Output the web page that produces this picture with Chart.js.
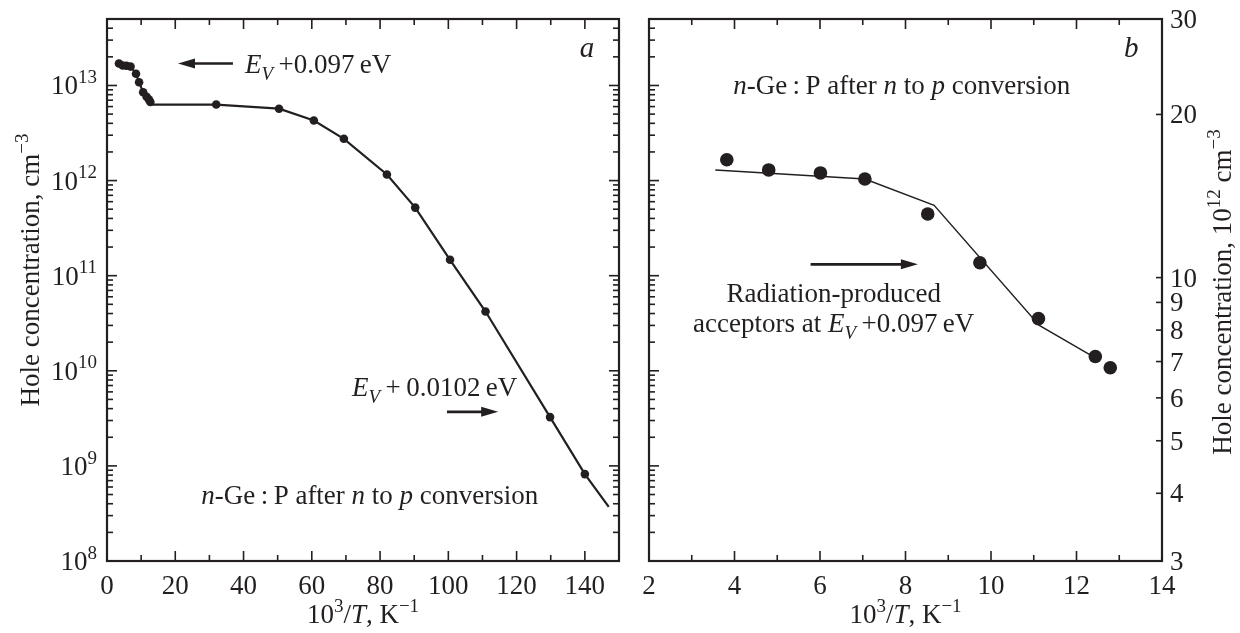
<!DOCTYPE html>
<html>
<head>
<meta charset="utf-8">
<script src="https://cdn.jsdelivr.net/npm/chart.js@4.4.1/dist/chart.umd.min.js"></script>
<style>
  html, body { margin: 0; padding: 0; background: #fff; }
  #wrap { position: relative; width: 1240px; height: 633px; }
  #left { position: absolute; left: 0; top: 0; }
  #right { position: absolute; left: 635px; top: 0; }
</style>
</head>
<body>
<div id="wrap">
  <canvas id="left" width="635" height="633"></canvas>
  <canvas id="right" width="605" height="633"></canvas>
</div>
<script>
// ******************************* DATOS *******************************
// Panel a: puntos medidos
const leftPtsX = [3.5, 4.6, 5.7, 6.9, 8.5, 9.4, 10.6, 11.6, 12.3, 12.7, 32, 50.4, 60.6, 69.4, 82.0, 90.3, 100.5, 110.9, 129.8, 140.0];
const leftPtsY = [1.70e13, 1.62e13, 1.61e13, 1.58e13, 1.33e13, 1.08e13, 8.5e12, 7.6e12, 7.1e12, 6.7e12, 6.3e12, 5.7e12, 4.28e12, 2.75e12, 1.16e12, 5.2e11, 1.47e11, 4.2e10, 3.26e9, 8.2e8];
// Panel a: curva
const leftLineX = [3.5, 4.6, 5.7, 6.9, 8.5, 9.4, 10.6, 11.6, 12.3, 12.7, 13.2, 32, 50.4, 60.6, 69.4, 82.0, 90.3, 100.5, 110.9, 129.8, 140.0, 147];
const leftLineY = [1.70e13, 1.62e13, 1.61e13, 1.58e13, 1.33e13, 1.08e13, 8.5e12, 7.6e12, 7.1e12, 6.7e12, 6.3e12, 6.3e12, 5.7e12, 4.28e12, 2.75e12, 1.16e12, 5.2e11, 1.47e11, 4.2e10, 3.26e9, 8.2e8, 3.7e8];

// Panel b (10^12 cm^-3)
const rightPtsX = [3.82, 4.80, 6.01, 7.05, 8.52, 9.74, 11.11, 12.44, 12.79];
const rightPtsY = [16.5, 15.8, 15.6, 15.2, 13.1, 10.65, 8.4, 7.15, 6.82];
const rightLineX = [3.55, 7.05, 8.67, 11.13, 12.45];
const rightLineY = [15.8, 15.2, 13.6, 8.16, 7.1];

// Ticks
const leftXTicks = [0, 20, 40, 60, 80, 100, 120, 140];
const leftXMinor = [10, 30, 50, 70, 90, 110, 130];
const leftYExp = [8, 9, 10, 11, 12, 13];
const rightXTicks = [2, 4, 6, 8, 10, 12, 14];
const rightXMinor = [3, 5, 7, 9, 11, 13];
const rightYTicks = [3, 4, 5, 6, 7, 8, 9, 10, 20, 30];

// ******************************* ESTILO *******************************
const ink = "#231f20";
const serif = '"Liberation Serif", "DejaVu Serif", serif';
const FS = 27;

function toXY(xs, ys) {
  return xs.map((x, i) => ({ x: x, y: ys[i] }));
}

function partFont(p, size) {
  const s = p.sup || p.sub ? Math.round(size * 0.72) : size;
  return (p.i ? "italic " : "") + s + "px " + serif;
}

function richWidth(ctx, parts, size) {
  let w = 0;
  parts.forEach((p) => {
    ctx.font = partFont(p, size);
    w += ctx.measureText(p.t).width;
  });
  return w;
}

/**
 * Dibuja texto con cursiva, superíndices y subíndices.
 * y es la línea base
 */
function drawRich(ctx, parts, x, y, size, align) {
  const w = richWidth(ctx, parts, size);
  let cx = align === "center" ? x - w / 2 : align === "right" ? x - w : x;
  ctx.textAlign = "left";
  ctx.textBaseline = "alphabetic";
  parts.forEach((p) => {
    ctx.font = partFont(p, size);
    const dy = p.sup ? -size * 0.42 : p.sub ? size * 0.28 : 0;
    ctx.fillText(p.t, cx, y + dy);
    cx += ctx.measureText(p.t).width;
  });
}

function arrow(ctx, x1, x2, y) {
  const dir = x2 > x1 ? 1 : -1;
  const head = 17;
  ctx.lineWidth = 2.6;
  ctx.beginPath();
  ctx.moveTo(x1, y);
  ctx.lineTo(x2 - dir * head * 0.8, y);
  ctx.stroke();
  ctx.beginPath();
  ctx.moveTo(x2, y);
  ctx.lineTo(x2 - dir * head, y - 5);
  ctx.lineTo(x2 - dir * head, y + 5);
  ctx.closePath();
  ctx.fill();
}

function logTicks(min, max) {
  const major = [];
  const minor = [];
  for (let d = Math.floor(Math.log10(min)); d <= Math.ceil(Math.log10(max)); d++) {
    for (let k = 1; k <= 9; k++) {
      const v = k * Math.pow(10, d);
      if (v < min * 0.999 || v > max * 1.001) continue;
      (k === 1 ? major : minor).push(v);
    }
  }
  return { major: major, minor: minor };
}

const titleX = [{ t: "10" }, { t: "3", sup: true }, { t: "/" }, { t: "T", i: true }, { t: ", K" }, { t: "\u22121", sup: true }];

/**
 * Marco, ticks hacia dentro, etiquetas y anotaciones
 */
function makeFrame(cfg) {
  return {
    id: "frame",
    afterDatasetsDraw(chart) {
      const ctx = chart.ctx;
      const a = chart.chartArea;
      const xs = chart.scales.x;
      ctx.save();
      ctx.strokeStyle = ink;
      ctx.fillStyle = ink;
      ctx.lineCap = "butt";

      // ticks X (abajo y arriba)
      ctx.lineWidth = 1.6;
      const tick = (x1, y1, x2, y2) => {
        ctx.beginPath();
        ctx.moveTo(x1, y1);
        ctx.lineTo(x2, y2);
        ctx.stroke();
      };
      cfg.xMajor.forEach((v) => {
        const px = xs.getPixelForValue(v);
        tick(px, a.bottom, px, a.bottom - 10);
        tick(px, a.top, px, a.top + 10);
      });
      cfg.xMinor.forEach((v) => {
        const px = xs.getPixelForValue(v);
        tick(px, a.bottom, px, a.bottom - 6);
        tick(px, a.top, px, a.top + 6);
      });

      // ticks Y logarítmicos
      cfg.yAxes.forEach((ax) => {
        const sc = chart.scales[ax.id];
        const side = ax.side === "left" ? a.left : a.right;
        const dir = ax.side === "left" ? 1 : -1;
        ax.major.forEach((v) => {
          const py = sc.getPixelForValue(v);
          tick(side, py, side + dir * ax.majorLen, py);
        });
        ax.minor.forEach((v) => {
          const py = sc.getPixelForValue(v);
          tick(side, py, side + dir * 6, py);
        });
      });

      // marco
      ctx.lineWidth = 2.2;
      ctx.strokeRect(a.left, a.top, a.right - a.left, a.bottom - a.top);

      // etiquetas X
      cfg.xMajor.forEach((v) => {
        drawRich(ctx, [{ t: String(v) }], xs.getPixelForValue(v), a.bottom + 33, FS, "center");
      });
      drawRich(ctx, titleX, (a.left + a.right) / 2, a.bottom + 62, FS, "center");

      // etiquetas Y
      cfg.yLabels.forEach((l) => {
        const py = chart.scales[l.id].getPixelForValue(l.v);
        drawRich(ctx, l.parts, l.x, py + 9, FS, l.align);
      });

      // título Y (rotado)
      ctx.save();
      ctx.translate(cfg.yTitle.x, cfg.yTitle.y);
      ctx.rotate(-Math.PI / 2);
      drawRich(ctx, cfg.yTitle.parts, 0, 0, FS, "center");
      ctx.restore();

      // anotaciones en coordenadas de datos
      const ys = chart.scales.y;
      cfg.notes.forEach((n) => {
        drawRich(ctx, n.parts, xs.getPixelForValue(n.x), ys.getPixelForValue(n.y) + 9, n.size || FS, n.align);
      });
      cfg.arrows.forEach((r) => {
        arrow(ctx, xs.getPixelForValue(r.x1), xs.getPixelForValue(r.x2), ys.getPixelForValue(r.y));
      });
      ctx.restore();
    },
  };
}

function baseOptions(pad) {
  return {
    responsive: false,
    animation: false,
    devicePixelRatio: 1,
    layout: { padding: pad },
    plugins: { legend: { display: false }, tooltip: { enabled: false } },
  };
}

const conversion = [
  { t: "n", i: true }, { t: "-Ge\u2009:\u2009P after " }, { t: "n", i: true },
  { t: " to " }, { t: "p", i: true }, { t: " conversion" },
];

// ******************************* PANEL a *******************************
const leftLog = logTicks(1e8, 5e13);
const leftOpts = baseOptions({ left: 107, right: 16, top: 19, bottom: 72 });
leftOpts.scales = {
  x: { type: "linear", min: 0, max: 150, display: false },
  y: { type: "logarithmic", min: 1e8, max: 5e13, display: false },
};

new Chart(document.getElementById("left"), {
  type: "scatter",
  data: {
    datasets: [
      {
        data: toXY(leftLineX, leftLineY),
        showLine: true,
        borderColor: ink,
        borderWidth: 2.2,
        pointRadius: 0,
        tension: 0,
      },
      {
        data: toXY(leftPtsX, leftPtsY),
        showLine: false,
        pointRadius: 4.3,
        pointBackgroundColor: ink,
        pointBorderWidth: 0,
      },
    ],
  },
  options: leftOpts,
  plugins: [
    makeFrame({
      xMajor: leftXTicks,
      xMinor: leftXMinor,
      yAxes: [
        { id: "y", side: "left", major: leftLog.major, minor: leftLog.minor, majorLen: 10 },
        { id: "y", side: "right", major: leftLog.major, minor: leftLog.minor, majorLen: 10 },
      ],
      yLabels: leftYExp.map((e) => ({
        id: "y",
        v: Math.pow(10, e),
        x: 97,
        align: "right",
        parts: [{ t: "10" }, { t: String(e), sup: true }],
      })),
      yTitle: {
        x: 39,
        y: 270,
        parts: [{ t: "Hole concentration, cm" }, { t: "\u22123", sup: true }],
      },
      notes: [
        { x: 140.6, y: 2.5e13, parts: [{ t: "a", i: true }], align: "center", size: 29 },
        {
          x: 40.4, y: 1.7e13, align: "left",
          parts: [{ t: "E", i: true }, { t: "V", i: true, sub: true }, { t: "\u2009+0.097\u2009eV" }],
        },
        {
          x: 71.8, y: 6.8e9, align: "left",
          parts: [{ t: "E", i: true }, { t: "V", i: true, sub: true }, { t: "\u2009+\u20090.0102\u2009eV" }],
        },
        { x: 77, y: 4.95e8, align: "center", parts: conversion },
      ],
      arrows: [
        { x1: 36.9, x2: 20.8, y: 1.7e13 },
        { x1: 99.6, x2: 114.6, y: 3.7e9 },
      ],
    }),
  ],
});

// ******************************* PANEL b *******************************
const rightOpts = baseOptions({ left: 14, right: 78, top: 19, bottom: 72 });
rightOpts.scales = {
  x: { type: "linear", min: 2, max: 14, display: false },
  y: { type: "logarithmic", min: 3, max: 30, display: false },
  yL: { type: "logarithmic", min: 1e8, max: 5e13, display: false },
};

new Chart(document.getElementById("right"), {
  type: "scatter",
  data: {
    datasets: [
      {
        data: toXY(rightLineX, rightLineY),
        showLine: true,
        borderColor: ink,
        borderWidth: 1.4,
        pointRadius: 0,
        tension: 0,
      },
      {
        data: toXY(rightPtsX, rightPtsY),
        showLine: false,
        pointRadius: 6.8,
        pointBackgroundColor: ink,
        pointBorderWidth: 0,
      },
    ],
  },
  options: rightOpts,
  plugins: [
    makeFrame({
      xMajor: rightXTicks,
      xMinor: rightXMinor,
      yAxes: [
        { id: "yL", side: "left", major: leftLog.major, minor: leftLog.minor, majorLen: 10 },
        { id: "y", side: "right", major: rightYTicks, minor: [], majorLen: 6 },
      ],
      yLabels: rightYTicks.map((v) => ({
        id: "y",
        v: v,
        x: 535,
        align: "left",
        parts: [{ t: String(v) }],
      })),
      yTitle: {
        x: 596,
        y: 292,
        parts: [{ t: "Hole concentration, 10" }, { t: "12", sup: true }, { t: " cm" }, { t: "\u22123", sup: true }],
      },
      notes: [
        { x: 13.28, y: 26.5, parts: [{ t: "b", i: true }], align: "center", size: 29 },
        { x: 7.91, y: 22.7, align: "center", parts: conversion },
        { x: 6.32, y: 9.35, align: "center", parts: [{ t: "Radiation-produced" }] },
        {
          x: 6.32, y: 8.26, align: "center",
          parts: [{ t: "acceptors at " }, { t: "E", i: true }, { t: "V", i: true, sub: true }, { t: "\u2009+0.097\u2009eV" }],
        },
      ],
      arrows: [{ x1: 5.78, x2: 8.29, y: 10.58 }],
    }),
  ],
});
</script>
</body>
</html>
